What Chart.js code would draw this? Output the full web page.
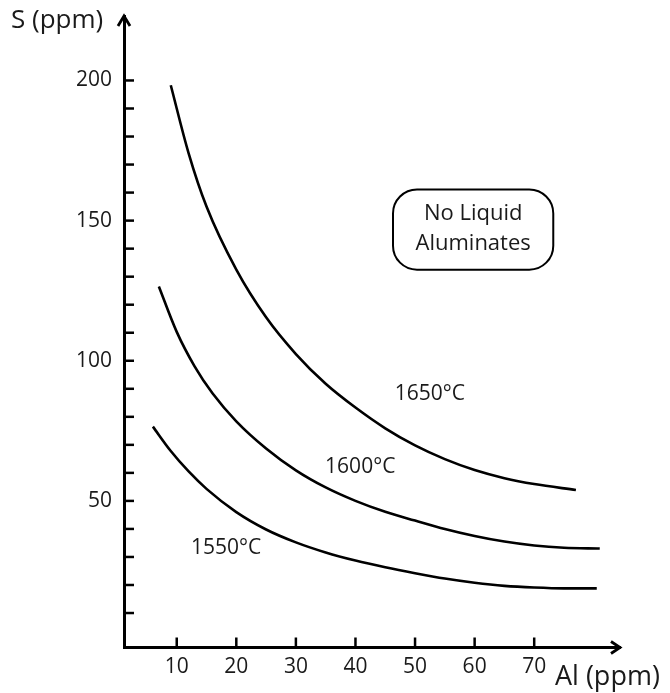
<!DOCTYPE html>
<html lang="en">
<head>
  <meta charset="UTF-8">
  <title>S vs Al – liquid aluminate boundary</title>
  <style>
    body {
      margin: 0;
      padding: 0;
      background-color: #fff;
    }
    #chart {
      display: block;
    }
  </style>
  <script src="https://cdn.jsdelivr.net/npm/chart.js"></script>
</head>
<body>
  <canvas id="chart" width="670" height="693"></canvas>

  <script>
    // axis ticks
    const xTicks = [10, 20, 30, 40, 50, 60, 70];
    const yTicks = [10, 20, 30, 40, 50, 60, 70, 80, 90, 100, 110, 120, 130, 140, 150, 160, 170, 180, 190, 200];
    const yLabelled = [50, 100, 150, 200];

    // curves (Al ppm, S ppm)
    const al1650 = [9, 12, 15, 20, 25, 30, 35, 40, 45, 50, 55, 60, 65, 70, 77];
    const s1650 = [198.3, 174, 155, 132.5, 115.5, 102.4, 91.8, 83.3, 75.9, 69.8, 64.9, 61, 58.1, 56, 53.9];

    const al1600 = [7, 10, 13, 16, 20, 25, 30, 35, 40, 45, 50, 55, 60, 65, 70, 75, 81];
    const s1600 = [126.5, 110.3, 98, 88.4, 78.4, 68.7, 60.9, 54.8, 50, 46.1, 43, 40, 37.5, 35.5, 34.1, 33.3, 33];

    const al1550 = [6, 9, 12, 15, 20, 25, 30, 35, 40, 45, 50, 55, 60, 65, 70, 75, 80.5];
    const s1550 = [76.5, 67.8, 60.5, 54.3, 46, 39.8, 35.2, 31.6, 28.7, 26.3, 24.2, 22.3, 20.8, 19.7, 19.1, 18.8, 18.8];

    const curveLabels = ["1650°C", "1600°C", "1550°C"];
    const curveLabelAl = [52.5, 40.8, 18.3];
    const curveLabelS = [88.2, 62.1, 33.2];

    const boxLines = ["No Liquid", "Aluminates"];

    const FONT = "'Open Sans', 'Noto Sans', sans-serif";
    const INK = "#1a1a1a";

    function toPoints(xs, ys) {
      return xs.map((x, i) => ({ x: x, y: ys[i] }));
    }

    function curve(label, xs, ys) {
      return {
        label: label,
        data: toPoints(xs, ys),
        showLine: true,
        borderColor: "#000",
        borderWidth: 2.6,
        pointRadius: 0,
        cubicInterpolationMode: "monotone",
        fill: false
      };
    }

    // tick marks inside the axes, arrowheads, titles and annotations
    const decorations = {
      id: "decorations",
      afterDraw(chart) {
        const ctx = chart.ctx;
        const xs = chart.scales.x;
        const ys = chart.scales.y;
        const area = chart.chartArea;

        ctx.save();
        ctx.strokeStyle = "#000";
        ctx.lineWidth = 2.5;
        ctx.lineCap = "butt";

        xs.ticks.forEach(t => {
          const px = xs.getPixelForValue(t.value);
          ctx.beginPath();
          ctx.moveTo(px, area.bottom);
          ctx.lineTo(px, area.bottom - 10);
          ctx.stroke();
        });
        ys.ticks.forEach(t => {
          const py = ys.getPixelForValue(t.value);
          ctx.beginPath();
          ctx.moveTo(area.left, py);
          ctx.lineTo(area.left + 10, py);
          ctx.stroke();
        });

        // arrowheads
        ctx.lineWidth = 2.8;
        ctx.lineJoin = "miter";
        ctx.beginPath();
        ctx.moveTo(area.right - 9, area.bottom - 6);
        ctx.lineTo(area.right, area.bottom);
        ctx.lineTo(area.right - 9, area.bottom + 6);
        ctx.stroke();
        ctx.beginPath();
        ctx.moveTo(area.left - 6, area.top + 10);
        ctx.lineTo(area.left, area.top);
        ctx.lineTo(area.left + 6, area.top + 10);
        ctx.stroke();

        // axis titles
        ctx.fillStyle = INK;
        ctx.font = "26px " + FONT;
        ctx.textBaseline = "middle";
        ctx.textAlign = "left";
        ctx.fillText("S (ppm)", 11, 21);
        ctx.font = "27px " + FONT;
        ctx.fillText("Al (ppm)", 555, 677);

        // curve labels
        ctx.font = "21px " + FONT;
        ctx.textAlign = "center";
        curveLabels.forEach((txt, i) => {
          ctx.fillText(txt, xs.getPixelForValue(curveLabelAl[i]), ys.getPixelForValue(curveLabelS[i]));
        });

        // rounded box
        const bx0 = xs.getPixelForValue(46.3);
        const bx1 = xs.getPixelForValue(73.2);
        const by0 = ys.getPixelForValue(161.1);
        const by1 = ys.getPixelForValue(132.5);
        ctx.lineWidth = 2;
        ctx.beginPath();
        ctx.roundRect(bx0, by0, bx1 - bx0, by1 - by0, 24);
        ctx.stroke();
        const cx = (bx0 + bx1) / 2;
        ctx.font = "22px " + FONT;
        ctx.fillText(boxLines[0], cx, by0 + 24);
        ctx.fillText(boxLines[1], cx, by0 + 54);

        ctx.restore();
      }
    };

    new Chart(document.getElementById("chart"), {
      type: "scatter",
      data: {
        datasets: [
          curve("1650°C", al1650, s1650),
          curve("1600°C", al1600, s1600),
          curve("1550°C", al1550, s1550)
        ]
      },
      options: {
        responsive: false,
        animation: false,
        layout: {
          padding: { top: 16, right: 50, left: 0, bottom: 0 }
        },
        plugins: {
          legend: { display: false },
          tooltip: { enabled: false }
        },
        scales: {
          x: {
            type: "linear",
            min: 1.15,
            max: 84.4,
            afterBuildTicks: s => { s.ticks = xTicks.map(v => ({ value: v })); },
            afterFit: s => { s.height = 45.5; s.paddingLeft = 0; s.paddingRight = 0; },
            ticks: {
              autoSkip: false,
              maxRotation: 0,
              padding: 7,
              color: INK,
              font: { family: FONT, size: 21 }
            },
            grid: { drawOnChartArea: false, drawTicks: false },
            border: { color: "#000", width: 3 }
          },
          y: {
            type: "linear",
            min: -2.3,
            max: 223,
            afterBuildTicks: s => { s.ticks = yTicks.map(v => ({ value: v })); },
            afterFit: s => { s.width = 124; s.paddingTop = 0; s.paddingBottom = 0; },
            ticks: {
              autoSkip: false,
              padding: 12,
              color: INK,
              font: { family: FONT, size: 21 },
              callback: v => (yLabelled.includes(v) ? String(v) : "")
            },
            grid: { drawOnChartArea: false, drawTicks: false },
            border: { color: "#000", width: 3 }
          }
        }
      },
      plugins: [decorations]
    });
  </script>
</body>
</html>
